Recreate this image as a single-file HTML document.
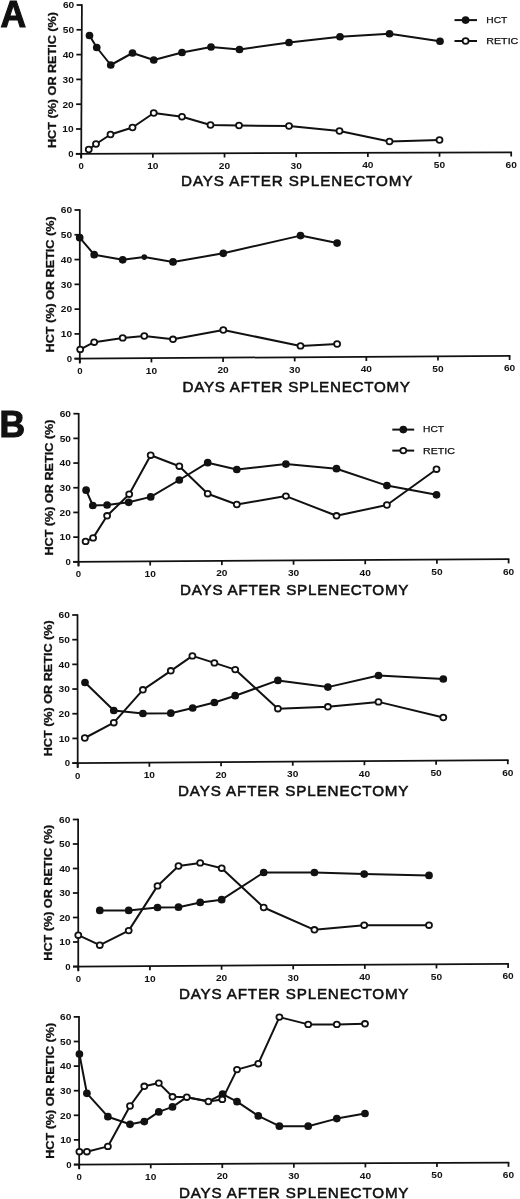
<!DOCTYPE html>
<html><head><meta charset="utf-8"><style>
html,body{margin:0;padding:0;background:#fff;}
body{width:520px;height:1199px;overflow:hidden;}
svg{display:block;filter:blur(0.3px);}
.ax{stroke:#111;stroke-width:1.75;fill:none;}
.dl{stroke:#111;stroke-width:2.0;fill:none;stroke-linejoin:round;}
.fm{fill:#111;stroke:none;}
.om{fill:#fff;stroke:#111;stroke-width:1.8;}
text{font-family:"Liberation Sans",sans-serif;fill:#111;}
.tk{font-size:9.6px;font-weight:bold;}
.tt{font-size:15.2px;stroke:#111;stroke-width:0.55px;}
.yt{font-size:11px;font-weight:bold;stroke:#111;stroke-width:0.3px;}
.lg{font-size:9.5px;stroke:#111;stroke-width:0.25px;}
.big{font-size:36px;font-weight:bold;stroke:#111;stroke-width:1.1px;}
</style></head><body>
<svg width="520" height="1199" viewBox="0 0 520 1199">
<rect width="520" height="1199" fill="#fff"/>
<g id="A1"><line x1="81.9" y1="4.2" x2="81.2" y2="158.6" class="ax"/>
<line x1="75.9" y1="153.8" x2="512" y2="152.3" class="ax"/>
<line x1="75.9" y1="153.8" x2="81.2" y2="153.8" class="ax"/>
<text x="73.5" y="157.1" class="tk" text-anchor="end">0</text>
<line x1="76.02" y1="129" x2="81.32" y2="129" class="ax"/>
<text x="73.62" y="132.3" class="tk" text-anchor="end" textLength="11.3" lengthAdjust="spacingAndGlyphs">10</text>
<line x1="76.13" y1="104.2" x2="81.43" y2="104.2" class="ax"/>
<text x="73.73" y="107.5" class="tk" text-anchor="end" textLength="11.3" lengthAdjust="spacingAndGlyphs">20</text>
<line x1="76.25" y1="79.4" x2="81.55" y2="79.4" class="ax"/>
<text x="73.85" y="82.7" class="tk" text-anchor="end" textLength="11.3" lengthAdjust="spacingAndGlyphs">30</text>
<line x1="76.37" y1="54.6" x2="81.67" y2="54.6" class="ax"/>
<text x="73.97" y="57.9" class="tk" text-anchor="end" textLength="11.3" lengthAdjust="spacingAndGlyphs">40</text>
<line x1="76.48" y1="29.8" x2="81.78" y2="29.8" class="ax"/>
<text x="74.08" y="33.1" class="tk" text-anchor="end" textLength="11.3" lengthAdjust="spacingAndGlyphs">50</text>
<line x1="76.6" y1="5" x2="81.9" y2="5" class="ax"/>
<text x="74.2" y="8.3" class="tk" text-anchor="end" textLength="11.3" lengthAdjust="spacingAndGlyphs">60</text>
<line x1="81.2" y1="153.8" x2="81.2" y2="158" class="ax"/>
<text x="81.2" y="169.3" class="tk" text-anchor="middle">0</text>
<line x1="152.87" y1="153.55" x2="152.87" y2="157.75" class="ax"/>
<text x="152.87" y="169.05" class="tk" text-anchor="middle" textLength="11.3" lengthAdjust="spacingAndGlyphs">10</text>
<line x1="224.53" y1="153.3" x2="224.53" y2="157.5" class="ax"/>
<text x="224.53" y="168.8" class="tk" text-anchor="middle" textLength="11.3" lengthAdjust="spacingAndGlyphs">20</text>
<line x1="296.2" y1="153.05" x2="296.2" y2="157.25" class="ax"/>
<text x="296.2" y="168.55" class="tk" text-anchor="middle" textLength="11.3" lengthAdjust="spacingAndGlyphs">30</text>
<line x1="367.87" y1="152.8" x2="367.87" y2="157" class="ax"/>
<text x="367.87" y="168.3" class="tk" text-anchor="middle" textLength="11.3" lengthAdjust="spacingAndGlyphs">40</text>
<line x1="439.53" y1="152.55" x2="439.53" y2="156.75" class="ax"/>
<text x="439.53" y="168.05" class="tk" text-anchor="middle" textLength="11.3" lengthAdjust="spacingAndGlyphs">50</text>
<line x1="511.2" y1="152.3" x2="511.2" y2="156.5" class="ax"/>
<text x="511.2" y="167.8" class="tk" text-anchor="middle" textLength="11.3" lengthAdjust="spacingAndGlyphs">60</text>
<text x="181" y="186.3" class="tt" textLength="231.5" lengthAdjust="spacing">DAYS AFTER SPLENECTOMY</text>
<text transform="translate(56.3,80) rotate(-90)" x="0" y="0" class="yt" text-anchor="middle" textLength="136" lengthAdjust="spacingAndGlyphs">HCT (%) OR RETIC (%)</text>
<polyline class="dl" points="89.5,35.5 96.75,47.5 110.75,65 132.5,53 153.75,60 182,52.5 211,47 239.5,49.5 289,42.5 340,36.75 389.5,33.75 440,41.25"/>
<polyline class="dl" points="88.75,149.5 96,144 110.5,134.5 132.5,127.5 153.75,113 182,116.75 210.5,125 239,125.5 289,126 339.5,131 389.5,141.5 439.5,140"/>
<circle cx="89.5" cy="35.5" r="3.85" class="fm"/>
<circle cx="96.75" cy="47.5" r="3.85" class="fm"/>
<circle cx="110.75" cy="65" r="3.85" class="fm"/>
<circle cx="132.5" cy="53" r="3.85" class="fm"/>
<circle cx="153.75" cy="60" r="3.85" class="fm"/>
<circle cx="182" cy="52.5" r="3.85" class="fm"/>
<circle cx="211" cy="47" r="3.85" class="fm"/>
<circle cx="239.5" cy="49.5" r="3.85" class="fm"/>
<circle cx="289" cy="42.5" r="3.85" class="fm"/>
<circle cx="340" cy="36.75" r="3.85" class="fm"/>
<circle cx="389.5" cy="33.75" r="3.85" class="fm"/>
<circle cx="440" cy="41.25" r="3.85" class="fm"/>
<ellipse cx="88.75" cy="149.5" rx="3.0" ry="2.8" class="om"/>
<ellipse cx="96" cy="144" rx="3.0" ry="2.8" class="om"/>
<ellipse cx="110.5" cy="134.5" rx="3.0" ry="2.8" class="om"/>
<ellipse cx="132.5" cy="127.5" rx="3.0" ry="2.8" class="om"/>
<ellipse cx="153.75" cy="113" rx="3.0" ry="2.8" class="om"/>
<ellipse cx="182" cy="116.75" rx="3.0" ry="2.8" class="om"/>
<ellipse cx="210.5" cy="125" rx="3.0" ry="2.8" class="om"/>
<ellipse cx="239" cy="125.5" rx="3.0" ry="2.8" class="om"/>
<ellipse cx="289" cy="126" rx="3.0" ry="2.8" class="om"/>
<ellipse cx="339.5" cy="131" rx="3.0" ry="2.8" class="om"/>
<ellipse cx="389.5" cy="141.5" rx="3.0" ry="2.8" class="om"/>
<ellipse cx="439.5" cy="140" rx="3.0" ry="2.8" class="om"/>
<line x1="454.5" y1="20.1" x2="477" y2="20.1" class="dl"/>
<circle cx="465.6" cy="20.1" r="3.85" class="fm"/>
<line x1="454.5" y1="41" x2="477" y2="41" class="dl"/>
<ellipse cx="465.6" cy="41" rx="3.0" ry="2.8" class="om"/>
<text x="486.3" y="22.9" class="lg" textLength="21" lengthAdjust="spacingAndGlyphs">HCT</text>
<text x="486.3" y="43.9" class="lg" textLength="32" lengthAdjust="spacingAndGlyphs">RETIC</text></g>
<g id="A2"><line x1="79.8" y1="209.2" x2="79.8" y2="363.5" class="ax"/>
<line x1="74.5" y1="358.7" x2="510.4" y2="355.8" class="ax"/>
<line x1="74.5" y1="358.7" x2="79.8" y2="358.7" class="ax"/>
<text x="72.1" y="362" class="tk" text-anchor="end">0</text>
<line x1="74.5" y1="333.92" x2="79.8" y2="333.92" class="ax"/>
<text x="72.1" y="337.22" class="tk" text-anchor="end" textLength="11.3" lengthAdjust="spacingAndGlyphs">10</text>
<line x1="74.5" y1="309.13" x2="79.8" y2="309.13" class="ax"/>
<text x="72.1" y="312.43" class="tk" text-anchor="end" textLength="11.3" lengthAdjust="spacingAndGlyphs">20</text>
<line x1="74.5" y1="284.35" x2="79.8" y2="284.35" class="ax"/>
<text x="72.1" y="287.65" class="tk" text-anchor="end" textLength="11.3" lengthAdjust="spacingAndGlyphs">30</text>
<line x1="74.5" y1="259.57" x2="79.8" y2="259.57" class="ax"/>
<text x="72.1" y="262.87" class="tk" text-anchor="end" textLength="11.3" lengthAdjust="spacingAndGlyphs">40</text>
<line x1="74.5" y1="234.78" x2="79.8" y2="234.78" class="ax"/>
<text x="72.1" y="238.08" class="tk" text-anchor="end" textLength="11.3" lengthAdjust="spacingAndGlyphs">50</text>
<line x1="74.5" y1="210" x2="79.8" y2="210" class="ax"/>
<text x="72.1" y="213.3" class="tk" text-anchor="end" textLength="11.3" lengthAdjust="spacingAndGlyphs">60</text>
<line x1="79.8" y1="358.7" x2="79.8" y2="362.9" class="ax"/>
<text x="79.8" y="374.2" class="tk" text-anchor="middle">0</text>
<line x1="151.43" y1="358.22" x2="151.43" y2="362.42" class="ax"/>
<text x="151.43" y="373.72" class="tk" text-anchor="middle" textLength="11.3" lengthAdjust="spacingAndGlyphs">10</text>
<line x1="223.07" y1="357.73" x2="223.07" y2="361.93" class="ax"/>
<text x="223.07" y="373.23" class="tk" text-anchor="middle" textLength="11.3" lengthAdjust="spacingAndGlyphs">20</text>
<line x1="294.7" y1="357.25" x2="294.7" y2="361.45" class="ax"/>
<text x="294.7" y="372.75" class="tk" text-anchor="middle" textLength="11.3" lengthAdjust="spacingAndGlyphs">30</text>
<line x1="366.33" y1="356.77" x2="366.33" y2="360.97" class="ax"/>
<text x="366.33" y="372.27" class="tk" text-anchor="middle" textLength="11.3" lengthAdjust="spacingAndGlyphs">40</text>
<line x1="437.97" y1="356.28" x2="437.97" y2="360.48" class="ax"/>
<text x="437.97" y="371.78" class="tk" text-anchor="middle" textLength="11.3" lengthAdjust="spacingAndGlyphs">50</text>
<line x1="509.6" y1="355.8" x2="509.6" y2="360" class="ax"/>
<text x="509.6" y="371.3" class="tk" text-anchor="middle" textLength="11.3" lengthAdjust="spacingAndGlyphs">60</text>
<text x="182.5" y="392" class="tt" textLength="227.5" lengthAdjust="spacing">DAYS AFTER SPLENECTOMY</text>
<text transform="translate(54.3,284.4) rotate(-90)" x="0" y="0" class="yt" text-anchor="middle" textLength="136" lengthAdjust="spacingAndGlyphs">HCT (%) OR RETIC (%)</text>
<polyline class="dl" points="79.7,237.7 94.2,254.7 122.7,259.8 144.3,257.1 173,261.9 223.3,253.3 300.5,235.6 337.1,243.1"/>
<polyline class="dl" points="80.2,349.4 94.2,342.2 122.7,337.9 144.3,336 173,339.3 223.3,330 300.5,345.9 337.1,344"/>
<circle cx="79.7" cy="237.7" r="3.85" class="fm"/>
<circle cx="94.2" cy="254.7" r="3.85" class="fm"/>
<circle cx="122.7" cy="259.8" r="3.85" class="fm"/>
<circle cx="144.3" cy="257.1" r="2.8" class="fm"/>
<circle cx="173" cy="261.9" r="3.85" class="fm"/>
<circle cx="223.3" cy="253.3" r="3.85" class="fm"/>
<circle cx="300.5" cy="235.6" r="3.85" class="fm"/>
<circle cx="337.1" cy="243.1" r="3.85" class="fm"/>
<ellipse cx="80.2" cy="349.4" rx="3.0" ry="2.8" class="om"/>
<ellipse cx="94.2" cy="342.2" rx="3.0" ry="2.8" class="om"/>
<ellipse cx="122.7" cy="337.9" rx="3.0" ry="2.8" class="om"/>
<ellipse cx="144.3" cy="336" rx="3.0" ry="2.8" class="om"/>
<ellipse cx="173" cy="339.3" rx="3.0" ry="2.8" class="om"/>
<ellipse cx="223.3" cy="330" rx="3.0" ry="2.8" class="om"/>
<ellipse cx="300.5" cy="345.9" rx="3.0" ry="2.8" class="om"/>
<ellipse cx="337.1" cy="344" rx="3.0" ry="2.8" class="om"/></g>
<g id="B1"><line x1="78.7" y1="412.9" x2="78.5" y2="566.6" class="ax"/>
<line x1="73.2" y1="561.8" x2="509.4" y2="559.2" class="ax"/>
<line x1="73.2" y1="561.8" x2="78.5" y2="561.8" class="ax"/>
<text x="70.8" y="565.1" class="tk" text-anchor="end">0</text>
<line x1="73.23" y1="537.12" x2="78.53" y2="537.12" class="ax"/>
<text x="70.83" y="540.42" class="tk" text-anchor="end" textLength="11.3" lengthAdjust="spacingAndGlyphs">10</text>
<line x1="73.27" y1="512.43" x2="78.57" y2="512.43" class="ax"/>
<text x="70.87" y="515.73" class="tk" text-anchor="end" textLength="11.3" lengthAdjust="spacingAndGlyphs">20</text>
<line x1="73.3" y1="487.75" x2="78.6" y2="487.75" class="ax"/>
<text x="70.9" y="491.05" class="tk" text-anchor="end" textLength="11.3" lengthAdjust="spacingAndGlyphs">30</text>
<line x1="73.33" y1="463.07" x2="78.63" y2="463.07" class="ax"/>
<text x="70.93" y="466.37" class="tk" text-anchor="end" textLength="11.3" lengthAdjust="spacingAndGlyphs">40</text>
<line x1="73.37" y1="438.38" x2="78.67" y2="438.38" class="ax"/>
<text x="70.97" y="441.68" class="tk" text-anchor="end" textLength="11.3" lengthAdjust="spacingAndGlyphs">50</text>
<line x1="73.4" y1="413.7" x2="78.7" y2="413.7" class="ax"/>
<text x="71" y="417" class="tk" text-anchor="end" textLength="11.3" lengthAdjust="spacingAndGlyphs">60</text>
<line x1="78.5" y1="561.8" x2="78.5" y2="566" class="ax"/>
<text x="78.5" y="577.3" class="tk" text-anchor="middle">0</text>
<line x1="150.18" y1="561.37" x2="150.18" y2="565.57" class="ax"/>
<text x="150.18" y="576.87" class="tk" text-anchor="middle" textLength="11.3" lengthAdjust="spacingAndGlyphs">10</text>
<line x1="221.87" y1="560.93" x2="221.87" y2="565.13" class="ax"/>
<text x="221.87" y="576.43" class="tk" text-anchor="middle" textLength="11.3" lengthAdjust="spacingAndGlyphs">20</text>
<line x1="293.55" y1="560.5" x2="293.55" y2="564.7" class="ax"/>
<text x="293.55" y="576" class="tk" text-anchor="middle" textLength="11.3" lengthAdjust="spacingAndGlyphs">30</text>
<line x1="365.23" y1="560.07" x2="365.23" y2="564.27" class="ax"/>
<text x="365.23" y="575.57" class="tk" text-anchor="middle" textLength="11.3" lengthAdjust="spacingAndGlyphs">40</text>
<line x1="436.92" y1="559.63" x2="436.92" y2="563.83" class="ax"/>
<text x="436.92" y="575.13" class="tk" text-anchor="middle" textLength="11.3" lengthAdjust="spacingAndGlyphs">50</text>
<line x1="508.6" y1="559.2" x2="508.6" y2="563.4" class="ax"/>
<text x="508.6" y="574.7" class="tk" text-anchor="middle" textLength="11.3" lengthAdjust="spacingAndGlyphs">60</text>
<text x="180" y="595" class="tt" textLength="228.5" lengthAdjust="spacing">DAYS AFTER SPLENECTOMY</text>
<text transform="translate(53.2,487.6) rotate(-90)" x="0" y="0" class="yt" text-anchor="middle" textLength="136" lengthAdjust="spacingAndGlyphs">HCT (%) OR RETIC (%)</text>
<polyline class="dl" points="86.1,490.2 92.8,505.5 107.1,505 128.7,502.3 150.7,496.9 179.3,480 207.7,462.7 236.8,469.5 285.9,464.1 336.5,468.7 386.9,485.6 436.5,494.8"/>
<polyline class="dl" points="85.6,541.4 93.1,537.9 107.1,515.8 129.2,494.2 150.7,455.2 179.3,466.2 207.7,493.7 236.8,504.5 285.9,496.1 336.5,515.8 386.9,505 436.5,469.2"/>
<circle cx="86.1" cy="490.2" r="3.85" class="fm"/>
<circle cx="92.8" cy="505.5" r="3.85" class="fm"/>
<circle cx="107.1" cy="505" r="3.85" class="fm"/>
<circle cx="128.7" cy="502.3" r="3.85" class="fm"/>
<circle cx="150.7" cy="496.9" r="3.85" class="fm"/>
<circle cx="179.3" cy="480" r="3.85" class="fm"/>
<circle cx="207.7" cy="462.7" r="3.85" class="fm"/>
<circle cx="236.8" cy="469.5" r="3.85" class="fm"/>
<circle cx="285.9" cy="464.1" r="3.85" class="fm"/>
<circle cx="336.5" cy="468.7" r="3.85" class="fm"/>
<circle cx="386.9" cy="485.6" r="3.85" class="fm"/>
<circle cx="436.5" cy="494.8" r="3.85" class="fm"/>
<ellipse cx="85.6" cy="541.4" rx="3.0" ry="2.8" class="om"/>
<ellipse cx="93.1" cy="537.9" rx="3.0" ry="2.8" class="om"/>
<ellipse cx="107.1" cy="515.8" rx="3.0" ry="2.8" class="om"/>
<ellipse cx="129.2" cy="494.2" rx="3.0" ry="2.8" class="om"/>
<ellipse cx="150.7" cy="455.2" rx="3.0" ry="2.8" class="om"/>
<ellipse cx="179.3" cy="466.2" rx="3.0" ry="2.8" class="om"/>
<ellipse cx="207.7" cy="493.7" rx="3.0" ry="2.8" class="om"/>
<ellipse cx="236.8" cy="504.5" rx="3.0" ry="2.8" class="om"/>
<ellipse cx="285.9" cy="496.1" rx="3.0" ry="2.8" class="om"/>
<ellipse cx="336.5" cy="515.8" rx="3.0" ry="2.8" class="om"/>
<ellipse cx="386.9" cy="505" rx="3.0" ry="2.8" class="om"/>
<ellipse cx="436.5" cy="469.2" rx="3.0" ry="2.8" class="om"/>
<line x1="392.3" y1="429.6" x2="414.2" y2="429.6" class="dl"/>
<circle cx="403.3" cy="429.6" r="3.85" class="fm"/>
<line x1="392.3" y1="450.6" x2="414.2" y2="450.6" class="dl"/>
<ellipse cx="403.3" cy="450.6" rx="3.0" ry="2.8" class="om"/>
<text x="423" y="432.4" class="lg" textLength="21" lengthAdjust="spacingAndGlyphs">HCT</text>
<text x="423" y="453.5" class="lg" textLength="32" lengthAdjust="spacingAndGlyphs">RETIC</text></g>
<g id="B2"><line x1="77.5" y1="614.2" x2="77.7" y2="767.9" class="ax"/>
<line x1="72.4" y1="763.1" x2="508.6" y2="760" class="ax"/>
<line x1="72.4" y1="763.1" x2="77.7" y2="763.1" class="ax"/>
<text x="70" y="766.4" class="tk" text-anchor="end">0</text>
<line x1="72.37" y1="738.42" x2="77.67" y2="738.42" class="ax"/>
<text x="69.97" y="741.72" class="tk" text-anchor="end" textLength="11.3" lengthAdjust="spacingAndGlyphs">10</text>
<line x1="72.33" y1="713.73" x2="77.63" y2="713.73" class="ax"/>
<text x="69.93" y="717.03" class="tk" text-anchor="end" textLength="11.3" lengthAdjust="spacingAndGlyphs">20</text>
<line x1="72.3" y1="689.05" x2="77.6" y2="689.05" class="ax"/>
<text x="69.9" y="692.35" class="tk" text-anchor="end" textLength="11.3" lengthAdjust="spacingAndGlyphs">30</text>
<line x1="72.27" y1="664.37" x2="77.57" y2="664.37" class="ax"/>
<text x="69.87" y="667.67" class="tk" text-anchor="end" textLength="11.3" lengthAdjust="spacingAndGlyphs">40</text>
<line x1="72.23" y1="639.68" x2="77.53" y2="639.68" class="ax"/>
<text x="69.83" y="642.98" class="tk" text-anchor="end" textLength="11.3" lengthAdjust="spacingAndGlyphs">50</text>
<line x1="72.2" y1="615" x2="77.5" y2="615" class="ax"/>
<text x="69.8" y="618.3" class="tk" text-anchor="end" textLength="11.3" lengthAdjust="spacingAndGlyphs">60</text>
<line x1="77.7" y1="763.1" x2="77.7" y2="767.3" class="ax"/>
<text x="77.7" y="778.6" class="tk" text-anchor="middle">0</text>
<line x1="149.38" y1="762.58" x2="149.38" y2="766.78" class="ax"/>
<text x="149.38" y="778.08" class="tk" text-anchor="middle" textLength="11.3" lengthAdjust="spacingAndGlyphs">10</text>
<line x1="221.07" y1="762.07" x2="221.07" y2="766.27" class="ax"/>
<text x="221.07" y="777.57" class="tk" text-anchor="middle" textLength="11.3" lengthAdjust="spacingAndGlyphs">20</text>
<line x1="292.75" y1="761.55" x2="292.75" y2="765.75" class="ax"/>
<text x="292.75" y="777.05" class="tk" text-anchor="middle" textLength="11.3" lengthAdjust="spacingAndGlyphs">30</text>
<line x1="364.43" y1="761.03" x2="364.43" y2="765.23" class="ax"/>
<text x="364.43" y="776.53" class="tk" text-anchor="middle" textLength="11.3" lengthAdjust="spacingAndGlyphs">40</text>
<line x1="436.12" y1="760.52" x2="436.12" y2="764.72" class="ax"/>
<text x="436.12" y="776.02" class="tk" text-anchor="middle" textLength="11.3" lengthAdjust="spacingAndGlyphs">50</text>
<line x1="507.8" y1="760" x2="507.8" y2="764.2" class="ax"/>
<text x="507.8" y="775.5" class="tk" text-anchor="middle" textLength="11.3" lengthAdjust="spacingAndGlyphs">60</text>
<text x="178" y="796" class="tt" textLength="230.5" lengthAdjust="spacing">DAYS AFTER SPLENECTOMY</text>
<text transform="translate(51.9,688.3) rotate(-90)" x="0" y="0" class="yt" text-anchor="middle" textLength="136" lengthAdjust="spacingAndGlyphs">HCT (%) OR RETIC (%)</text>
<polyline class="dl" points="85,682.5 113.8,710.5 142.9,713.5 170.8,713.2 192.7,708 214.4,702.5 235.2,695.7 277.9,680.4 327.9,687.1 378.5,675.5 443.3,679"/>
<polyline class="dl" points="84.8,738 113.8,722.7 142.9,689.8 170.8,670.8 192.4,655.9 214.4,662.9 235.2,669.6 277.9,708.7 327.9,706.8 378.5,701.9 443.3,717.5"/>
<circle cx="85" cy="682.5" r="3.85" class="fm"/>
<circle cx="113.8" cy="710.5" r="3.85" class="fm"/>
<circle cx="142.9" cy="713.5" r="3.85" class="fm"/>
<circle cx="170.8" cy="713.2" r="3.85" class="fm"/>
<circle cx="192.7" cy="708" r="3.85" class="fm"/>
<circle cx="214.4" cy="702.5" r="3.85" class="fm"/>
<circle cx="235.2" cy="695.7" r="3.85" class="fm"/>
<circle cx="277.9" cy="680.4" r="3.85" class="fm"/>
<circle cx="327.9" cy="687.1" r="3.85" class="fm"/>
<circle cx="378.5" cy="675.5" r="3.85" class="fm"/>
<circle cx="443.3" cy="679" r="3.85" class="fm"/>
<ellipse cx="84.8" cy="738" rx="3.0" ry="2.8" class="om"/>
<ellipse cx="113.8" cy="722.7" rx="3.0" ry="2.8" class="om"/>
<ellipse cx="142.9" cy="689.8" rx="3.0" ry="2.8" class="om"/>
<ellipse cx="170.8" cy="670.8" rx="3.0" ry="2.8" class="om"/>
<ellipse cx="192.4" cy="655.9" rx="3.0" ry="2.8" class="om"/>
<ellipse cx="214.4" cy="662.9" rx="3.0" ry="2.8" class="om"/>
<ellipse cx="235.2" cy="669.6" rx="3.0" ry="2.8" class="om"/>
<ellipse cx="277.9" cy="708.7" rx="3.0" ry="2.8" class="om"/>
<ellipse cx="327.9" cy="706.8" rx="3.0" ry="2.8" class="om"/>
<ellipse cx="378.5" cy="701.9" rx="3.0" ry="2.8" class="om"/>
<ellipse cx="443.3" cy="717.5" rx="3.0" ry="2.8" class="om"/></g>
<g id="B3"><line x1="78.1" y1="818.7" x2="78.3" y2="971.3" class="ax"/>
<line x1="73" y1="966.5" x2="508.9" y2="963.8" class="ax"/>
<line x1="73" y1="966.5" x2="78.3" y2="966.5" class="ax"/>
<text x="70.6" y="969.8" class="tk" text-anchor="end">0</text>
<line x1="72.97" y1="942" x2="78.27" y2="942" class="ax"/>
<text x="70.57" y="945.3" class="tk" text-anchor="end" textLength="11.3" lengthAdjust="spacingAndGlyphs">10</text>
<line x1="72.93" y1="917.5" x2="78.23" y2="917.5" class="ax"/>
<text x="70.53" y="920.8" class="tk" text-anchor="end" textLength="11.3" lengthAdjust="spacingAndGlyphs">20</text>
<line x1="72.9" y1="893" x2="78.2" y2="893" class="ax"/>
<text x="70.5" y="896.3" class="tk" text-anchor="end" textLength="11.3" lengthAdjust="spacingAndGlyphs">30</text>
<line x1="72.87" y1="868.5" x2="78.17" y2="868.5" class="ax"/>
<text x="70.47" y="871.8" class="tk" text-anchor="end" textLength="11.3" lengthAdjust="spacingAndGlyphs">40</text>
<line x1="72.83" y1="844" x2="78.13" y2="844" class="ax"/>
<text x="70.43" y="847.3" class="tk" text-anchor="end" textLength="11.3" lengthAdjust="spacingAndGlyphs">50</text>
<line x1="72.8" y1="819.5" x2="78.1" y2="819.5" class="ax"/>
<text x="70.4" y="822.8" class="tk" text-anchor="end" textLength="11.3" lengthAdjust="spacingAndGlyphs">60</text>
<line x1="78.3" y1="966.5" x2="78.3" y2="970.7" class="ax"/>
<text x="78.3" y="982" class="tk" text-anchor="middle">0</text>
<line x1="149.93" y1="966.05" x2="149.93" y2="970.25" class="ax"/>
<text x="149.93" y="981.55" class="tk" text-anchor="middle" textLength="11.3" lengthAdjust="spacingAndGlyphs">10</text>
<line x1="221.57" y1="965.6" x2="221.57" y2="969.8" class="ax"/>
<text x="221.57" y="981.1" class="tk" text-anchor="middle" textLength="11.3" lengthAdjust="spacingAndGlyphs">20</text>
<line x1="293.2" y1="965.15" x2="293.2" y2="969.35" class="ax"/>
<text x="293.2" y="980.65" class="tk" text-anchor="middle" textLength="11.3" lengthAdjust="spacingAndGlyphs">30</text>
<line x1="364.83" y1="964.7" x2="364.83" y2="968.9" class="ax"/>
<text x="364.83" y="980.2" class="tk" text-anchor="middle" textLength="11.3" lengthAdjust="spacingAndGlyphs">40</text>
<line x1="436.47" y1="964.25" x2="436.47" y2="968.45" class="ax"/>
<text x="436.47" y="979.75" class="tk" text-anchor="middle" textLength="11.3" lengthAdjust="spacingAndGlyphs">50</text>
<line x1="508.1" y1="963.8" x2="508.1" y2="968" class="ax"/>
<text x="508.1" y="979.3" class="tk" text-anchor="middle" textLength="11.3" lengthAdjust="spacingAndGlyphs">60</text>
<text x="179" y="999" class="tt" textLength="229.5" lengthAdjust="spacing">DAYS AFTER SPLENECTOMY</text>
<text transform="translate(51.9,892.7) rotate(-90)" x="0" y="0" class="yt" text-anchor="middle" textLength="136" lengthAdjust="spacingAndGlyphs">HCT (%) OR RETIC (%)</text>
<polyline class="dl" points="99.8,910.4 128.7,910.4 157.5,907.5 178.5,907.2 200.2,902.4 221.7,899.7 263.7,872.5 314.4,872.5 364.2,874.1 429,875.4"/>
<polyline class="dl" points="78.3,935.2 99.8,945.2 128.7,930.6 157.5,885.9 178.5,866 200.2,862.9 221.7,868.2 263.7,907.5 314.4,929.8 364.2,925.2 429,925.2"/>
<circle cx="99.8" cy="910.4" r="3.85" class="fm"/>
<circle cx="128.7" cy="910.4" r="3.85" class="fm"/>
<circle cx="157.5" cy="907.5" r="3.85" class="fm"/>
<circle cx="178.5" cy="907.2" r="3.85" class="fm"/>
<circle cx="200.2" cy="902.4" r="3.85" class="fm"/>
<circle cx="221.7" cy="899.7" r="3.85" class="fm"/>
<circle cx="263.7" cy="872.5" r="3.85" class="fm"/>
<circle cx="314.4" cy="872.5" r="3.85" class="fm"/>
<circle cx="364.2" cy="874.1" r="3.85" class="fm"/>
<circle cx="429" cy="875.4" r="3.85" class="fm"/>
<ellipse cx="78.3" cy="935.2" rx="3.0" ry="2.8" class="om"/>
<ellipse cx="99.8" cy="945.2" rx="3.0" ry="2.8" class="om"/>
<ellipse cx="128.7" cy="930.6" rx="3.0" ry="2.8" class="om"/>
<ellipse cx="157.5" cy="885.9" rx="3.0" ry="2.8" class="om"/>
<ellipse cx="178.5" cy="866" rx="3.0" ry="2.8" class="om"/>
<ellipse cx="200.2" cy="862.9" rx="3.0" ry="2.8" class="om"/>
<ellipse cx="221.7" cy="868.2" rx="3.0" ry="2.8" class="om"/>
<ellipse cx="263.7" cy="907.5" rx="3.0" ry="2.8" class="om"/>
<ellipse cx="314.4" cy="929.8" rx="3.0" ry="2.8" class="om"/>
<ellipse cx="364.2" cy="925.2" rx="3.0" ry="2.8" class="om"/>
<ellipse cx="429" cy="925.2" rx="3.0" ry="2.8" class="om"/></g>
<g id="B4"><line x1="79" y1="1016.1" x2="79.2" y2="1169.3" class="ax"/>
<line x1="73.9" y1="1164.5" x2="509.3" y2="1162.6" class="ax"/>
<line x1="73.9" y1="1164.5" x2="79.2" y2="1164.5" class="ax"/>
<text x="71.5" y="1167.8" class="tk" text-anchor="end">0</text>
<line x1="73.87" y1="1139.9" x2="79.17" y2="1139.9" class="ax"/>
<text x="71.47" y="1143.2" class="tk" text-anchor="end" textLength="11.3" lengthAdjust="spacingAndGlyphs">10</text>
<line x1="73.83" y1="1115.3" x2="79.13" y2="1115.3" class="ax"/>
<text x="71.43" y="1118.6" class="tk" text-anchor="end" textLength="11.3" lengthAdjust="spacingAndGlyphs">20</text>
<line x1="73.8" y1="1090.7" x2="79.1" y2="1090.7" class="ax"/>
<text x="71.4" y="1094" class="tk" text-anchor="end" textLength="11.3" lengthAdjust="spacingAndGlyphs">30</text>
<line x1="73.77" y1="1066.1" x2="79.07" y2="1066.1" class="ax"/>
<text x="71.37" y="1069.4" class="tk" text-anchor="end" textLength="11.3" lengthAdjust="spacingAndGlyphs">40</text>
<line x1="73.73" y1="1041.5" x2="79.03" y2="1041.5" class="ax"/>
<text x="71.33" y="1044.8" class="tk" text-anchor="end" textLength="11.3" lengthAdjust="spacingAndGlyphs">50</text>
<line x1="73.7" y1="1016.9" x2="79" y2="1016.9" class="ax"/>
<text x="71.3" y="1020.2" class="tk" text-anchor="end" textLength="11.3" lengthAdjust="spacingAndGlyphs">60</text>
<line x1="79.2" y1="1164.5" x2="79.2" y2="1168.7" class="ax"/>
<text x="79.2" y="1180" class="tk" text-anchor="middle">0</text>
<line x1="150.75" y1="1164.18" x2="150.75" y2="1168.38" class="ax"/>
<text x="150.75" y="1179.68" class="tk" text-anchor="middle" textLength="11.3" lengthAdjust="spacingAndGlyphs">10</text>
<line x1="222.3" y1="1163.87" x2="222.3" y2="1168.07" class="ax"/>
<text x="222.3" y="1179.37" class="tk" text-anchor="middle" textLength="11.3" lengthAdjust="spacingAndGlyphs">20</text>
<line x1="293.85" y1="1163.55" x2="293.85" y2="1167.75" class="ax"/>
<text x="293.85" y="1179.05" class="tk" text-anchor="middle" textLength="11.3" lengthAdjust="spacingAndGlyphs">30</text>
<line x1="365.4" y1="1163.23" x2="365.4" y2="1167.43" class="ax"/>
<text x="365.4" y="1178.73" class="tk" text-anchor="middle" textLength="11.3" lengthAdjust="spacingAndGlyphs">40</text>
<line x1="436.95" y1="1162.92" x2="436.95" y2="1167.12" class="ax"/>
<text x="436.95" y="1178.42" class="tk" text-anchor="middle" textLength="11.3" lengthAdjust="spacingAndGlyphs">50</text>
<line x1="508.5" y1="1162.6" x2="508.5" y2="1166.8" class="ax"/>
<text x="508.5" y="1178.1" class="tk" text-anchor="middle" textLength="11.3" lengthAdjust="spacingAndGlyphs">60</text>
<text x="179" y="1197.5" class="tt" textLength="229.5" lengthAdjust="spacing">DAYS AFTER SPLENECTOMY</text>
<text transform="translate(53.6,1090.8) rotate(-90)" x="0" y="0" class="yt" text-anchor="middle" textLength="136" lengthAdjust="spacingAndGlyphs">HCT (%) OR RETIC (%)</text>
<polyline class="dl" points="79.4,1054 86.9,1093.3 107.9,1116.7 130,1124.3 144.3,1121.6 158.8,1111.9 172.5,1106.9 186.8,1097.2 208.4,1101.3 222.6,1094.2 237,1101.7 258.3,1115.9 279.4,1126.2 308.2,1126.2 336.8,1118.6 365,1113.5"/>
<polyline class="dl" points="79.4,1151.7 86.9,1151.7 107.9,1146.4 130,1106 144.3,1086.3 158.8,1083.1 172.5,1096.8 186.8,1097.2 208.4,1101.5 222.3,1099.4 237,1069.6 258.3,1063.7 279.4,1017.1 308.2,1024.4 336.8,1024.4 365,1023.8"/>
<circle cx="79.4" cy="1054" r="3.85" class="fm"/>
<circle cx="86.9" cy="1093.3" r="3.85" class="fm"/>
<circle cx="107.9" cy="1116.7" r="3.85" class="fm"/>
<circle cx="130" cy="1124.3" r="3.85" class="fm"/>
<circle cx="144.3" cy="1121.6" r="3.85" class="fm"/>
<circle cx="158.8" cy="1111.9" r="3.85" class="fm"/>
<circle cx="172.5" cy="1106.9" r="3.85" class="fm"/>
<circle cx="222.6" cy="1094.2" r="3.85" class="fm"/>
<circle cx="237" cy="1101.7" r="3.85" class="fm"/>
<circle cx="258.3" cy="1115.9" r="3.85" class="fm"/>
<circle cx="279.4" cy="1126.2" r="3.85" class="fm"/>
<circle cx="308.2" cy="1126.2" r="3.85" class="fm"/>
<circle cx="336.8" cy="1118.6" r="3.85" class="fm"/>
<circle cx="365" cy="1113.5" r="3.85" class="fm"/>
<ellipse cx="79.4" cy="1151.7" rx="3.0" ry="2.8" class="om"/>
<ellipse cx="86.9" cy="1151.7" rx="3.0" ry="2.8" class="om"/>
<ellipse cx="107.9" cy="1146.4" rx="3.0" ry="2.8" class="om"/>
<ellipse cx="130" cy="1106" rx="3.0" ry="2.8" class="om"/>
<ellipse cx="144.3" cy="1086.3" rx="3.0" ry="2.8" class="om"/>
<ellipse cx="158.8" cy="1083.1" rx="3.0" ry="2.8" class="om"/>
<ellipse cx="172.5" cy="1096.8" rx="3.0" ry="2.8" class="om"/>
<ellipse cx="186.8" cy="1097.2" rx="3.0" ry="2.8" class="om"/>
<ellipse cx="208.4" cy="1101.5" rx="3.0" ry="2.8" class="om"/>
<ellipse cx="222.3" cy="1099.4" rx="3.0" ry="2.8" class="om"/>
<ellipse cx="237" cy="1069.6" rx="3.0" ry="2.8" class="om"/>
<ellipse cx="258.3" cy="1063.7" rx="3.0" ry="2.8" class="om"/>
<ellipse cx="279.4" cy="1017.1" rx="3.0" ry="2.8" class="om"/>
<ellipse cx="308.2" cy="1024.4" rx="3.0" ry="2.8" class="om"/>
<ellipse cx="336.8" cy="1024.4" rx="3.0" ry="2.8" class="om"/>
<ellipse cx="365" cy="1023.8" rx="3.0" ry="2.8" class="om"/></g>
<text x="0.4" y="26.9" class="big" textLength="25.6" lengthAdjust="spacingAndGlyphs">A</text>
<text x="-0.6" y="437.3" class="big" textLength="25.6" lengthAdjust="spacingAndGlyphs">B</text>
</svg>
</body></html>
